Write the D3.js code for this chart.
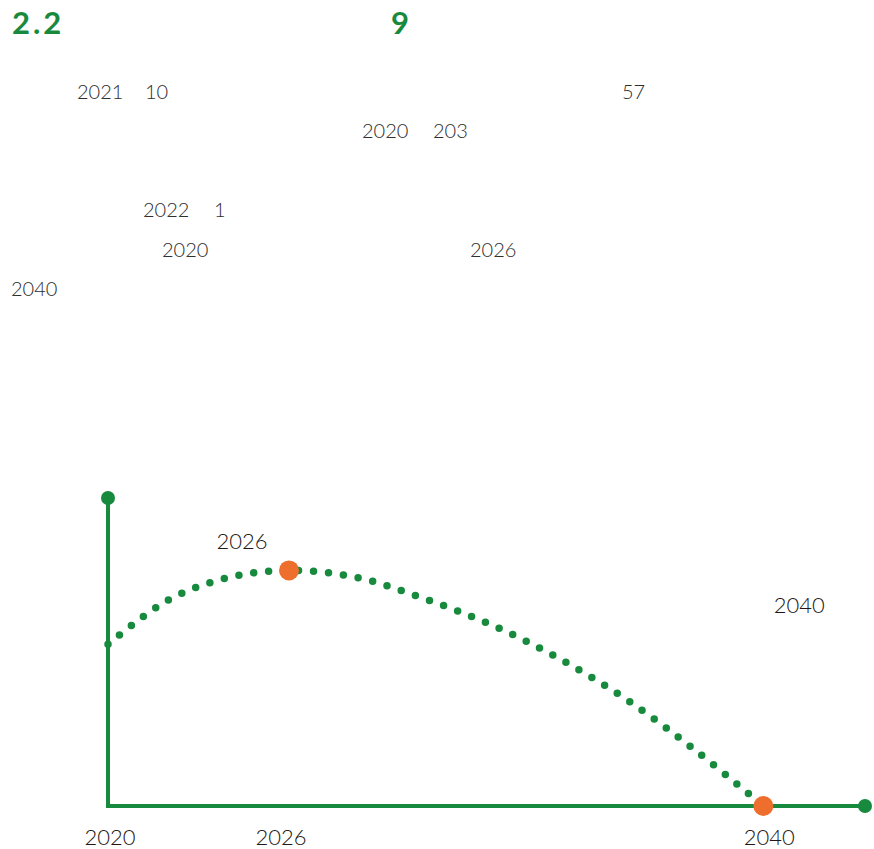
<!DOCTYPE html>
<html>
<head>
<meta charset="utf-8">
<script src="https://cdn.jsdelivr.net/npm/d3@7"></script>
<style>
  body { margin: 0; background: #fff; }
</style>
</head>
<body>
<script>
// numbers that survive in the text block
const titleNums = ["2.2", "9"];
const bodyRows = [["2021", "10", "57"], ["2020", "203"], ["2022", "1"], ["2020", "2026"], ["2040"]];

// emission path (index, 2040 = 0)
const years = [2020, 2022, 2024, 2026, 2028, 2030, 2032, 2034, 2036, 2038, 2040];
const values = [52.5, 66.9, 74.2, 76.5, 74.2, 67.3, 58.7, 47.7, 34.3, 18.0, 0];
const keyYears = [2026, 2040];
const tickYears = [2020, 2026, 2040];
const noteLabels = ["2026", "2040"];

const green = "#178a3e", orange = "#ee6e2d";
const W = 874, H = 849;
const font = "Lato, 'Open Sans', sans-serif";

const svg = d3.select("body").append("svg")
  .attr("width", W)
  .attr("height", H);

// title line
const titleX = [12, 391];
svg.append("g").selectAll("text")
  .data(titleNums)
  .join("text")
  .attr("x", (d, i) => titleX[i])
  .attr("y", 34)
  .attr("fill", green)
  .attr("font-family", font)
  .attr("font-weight", 700)
  .attr("font-size", 31)
  .attr("letter-spacing", 3)
  .text(d => d);

// body text fragments
const rowX = [[77, 145, 622], [362, 433], [143, 214], [162, 470], [11]];
const rowY = [99, 138, 217, 257, 296];
const body = svg.append("g")
  .attr("fill", "#2e2e2e")
  .attr("font-family", font)
  .attr("font-weight", 300)
  .attr("font-size", 20);
bodyRows.forEach((row, r) => {
  row.forEach((t, i) => {
    body.append("text").attr("x", rowX[r][i]).attr("y", rowY[r]).text(t);
  });
});

// chart
const x = d3.scaleLinear().domain([2020, 2026, 2043]).range([108, 289, 865]);
const y = d3.scaleLinear().domain([0, 100]).range([806, 498]);

const chart = svg.append("g");

chart.append("line")
  .attr("x1", x(2020)).attr("x2", x(2020))
  .attr("y1", y(0)).attr("y2", y(100))
  .attr("stroke", green).attr("stroke-width", 4);
chart.append("line")
  .attr("x1", x(2020) - 2).attr("x2", x(2043))
  .attr("y1", y(0)).attr("y2", y(0))
  .attr("stroke", green).attr("stroke-width", 4);

chart.selectAll("circle.end")
  .data([[2020, 100], [2043, 0]])
  .join("circle")
  .attr("class", "end")
  .attr("cx", d => x(d[0]))
  .attr("cy", d => y(d[1]))
  .attr("r", 7)
  .attr("fill", green);

const pts = years.map((yr, i) => [yr, values[i]]);
const line = d3.line()
  .x(d => x(d[0]))
  .y(d => y(d[1]))
  .curve(d3.curveCatmullRom.alpha(0.5));

chart.append("path")
  .datum(pts)
  .attr("fill", "none")
  .attr("stroke", green)
  .attr("stroke-width", 7.5)
  .attr("stroke-linecap", "round")
  .attr("stroke-dasharray", "0 15")
  .attr("d", line);

chart.selectAll("circle.key")
  .data(keyYears)
  .join("circle")
  .attr("class", "key")
  .attr("cx", d => x(d))
  .attr("cy", d => y(values[years.indexOf(d)]))
  .attr("r", 10)
  .attr("fill", orange);

chart.selectAll("text.tick")
  .data(tickYears)
  .join("text")
  .attr("class", "tick")
  .attr("x", (d, i) => x(d) + [2, -8, 6][i])
  .attr("y", 845)
  .attr("text-anchor", "middle")
  .attr("fill", "#231815")
  .attr("font-family", font)
  .attr("font-weight", 300)
  .attr("font-size", 22)
  .text(d => d);

// notes beside the key points
const noteDx = [-47, 36];
const noteDy = [-21, -193];
chart.selectAll("text.note")
  .data(keyYears)
  .join("text")
  .attr("class", "note")
  .attr("x", (d, i) => x(d) + noteDx[i])
  .attr("y", (d, i) => y(values[years.indexOf(d)]) + noteDy[i])
  .attr("text-anchor", "middle")
  .attr("fill", "#231815")
  .attr("font-family", font)
  .attr("font-weight", 300)
  .attr("font-size", 22)
  .text((d, i) => noteLabels[i]);
</script>
</body>
</html>
